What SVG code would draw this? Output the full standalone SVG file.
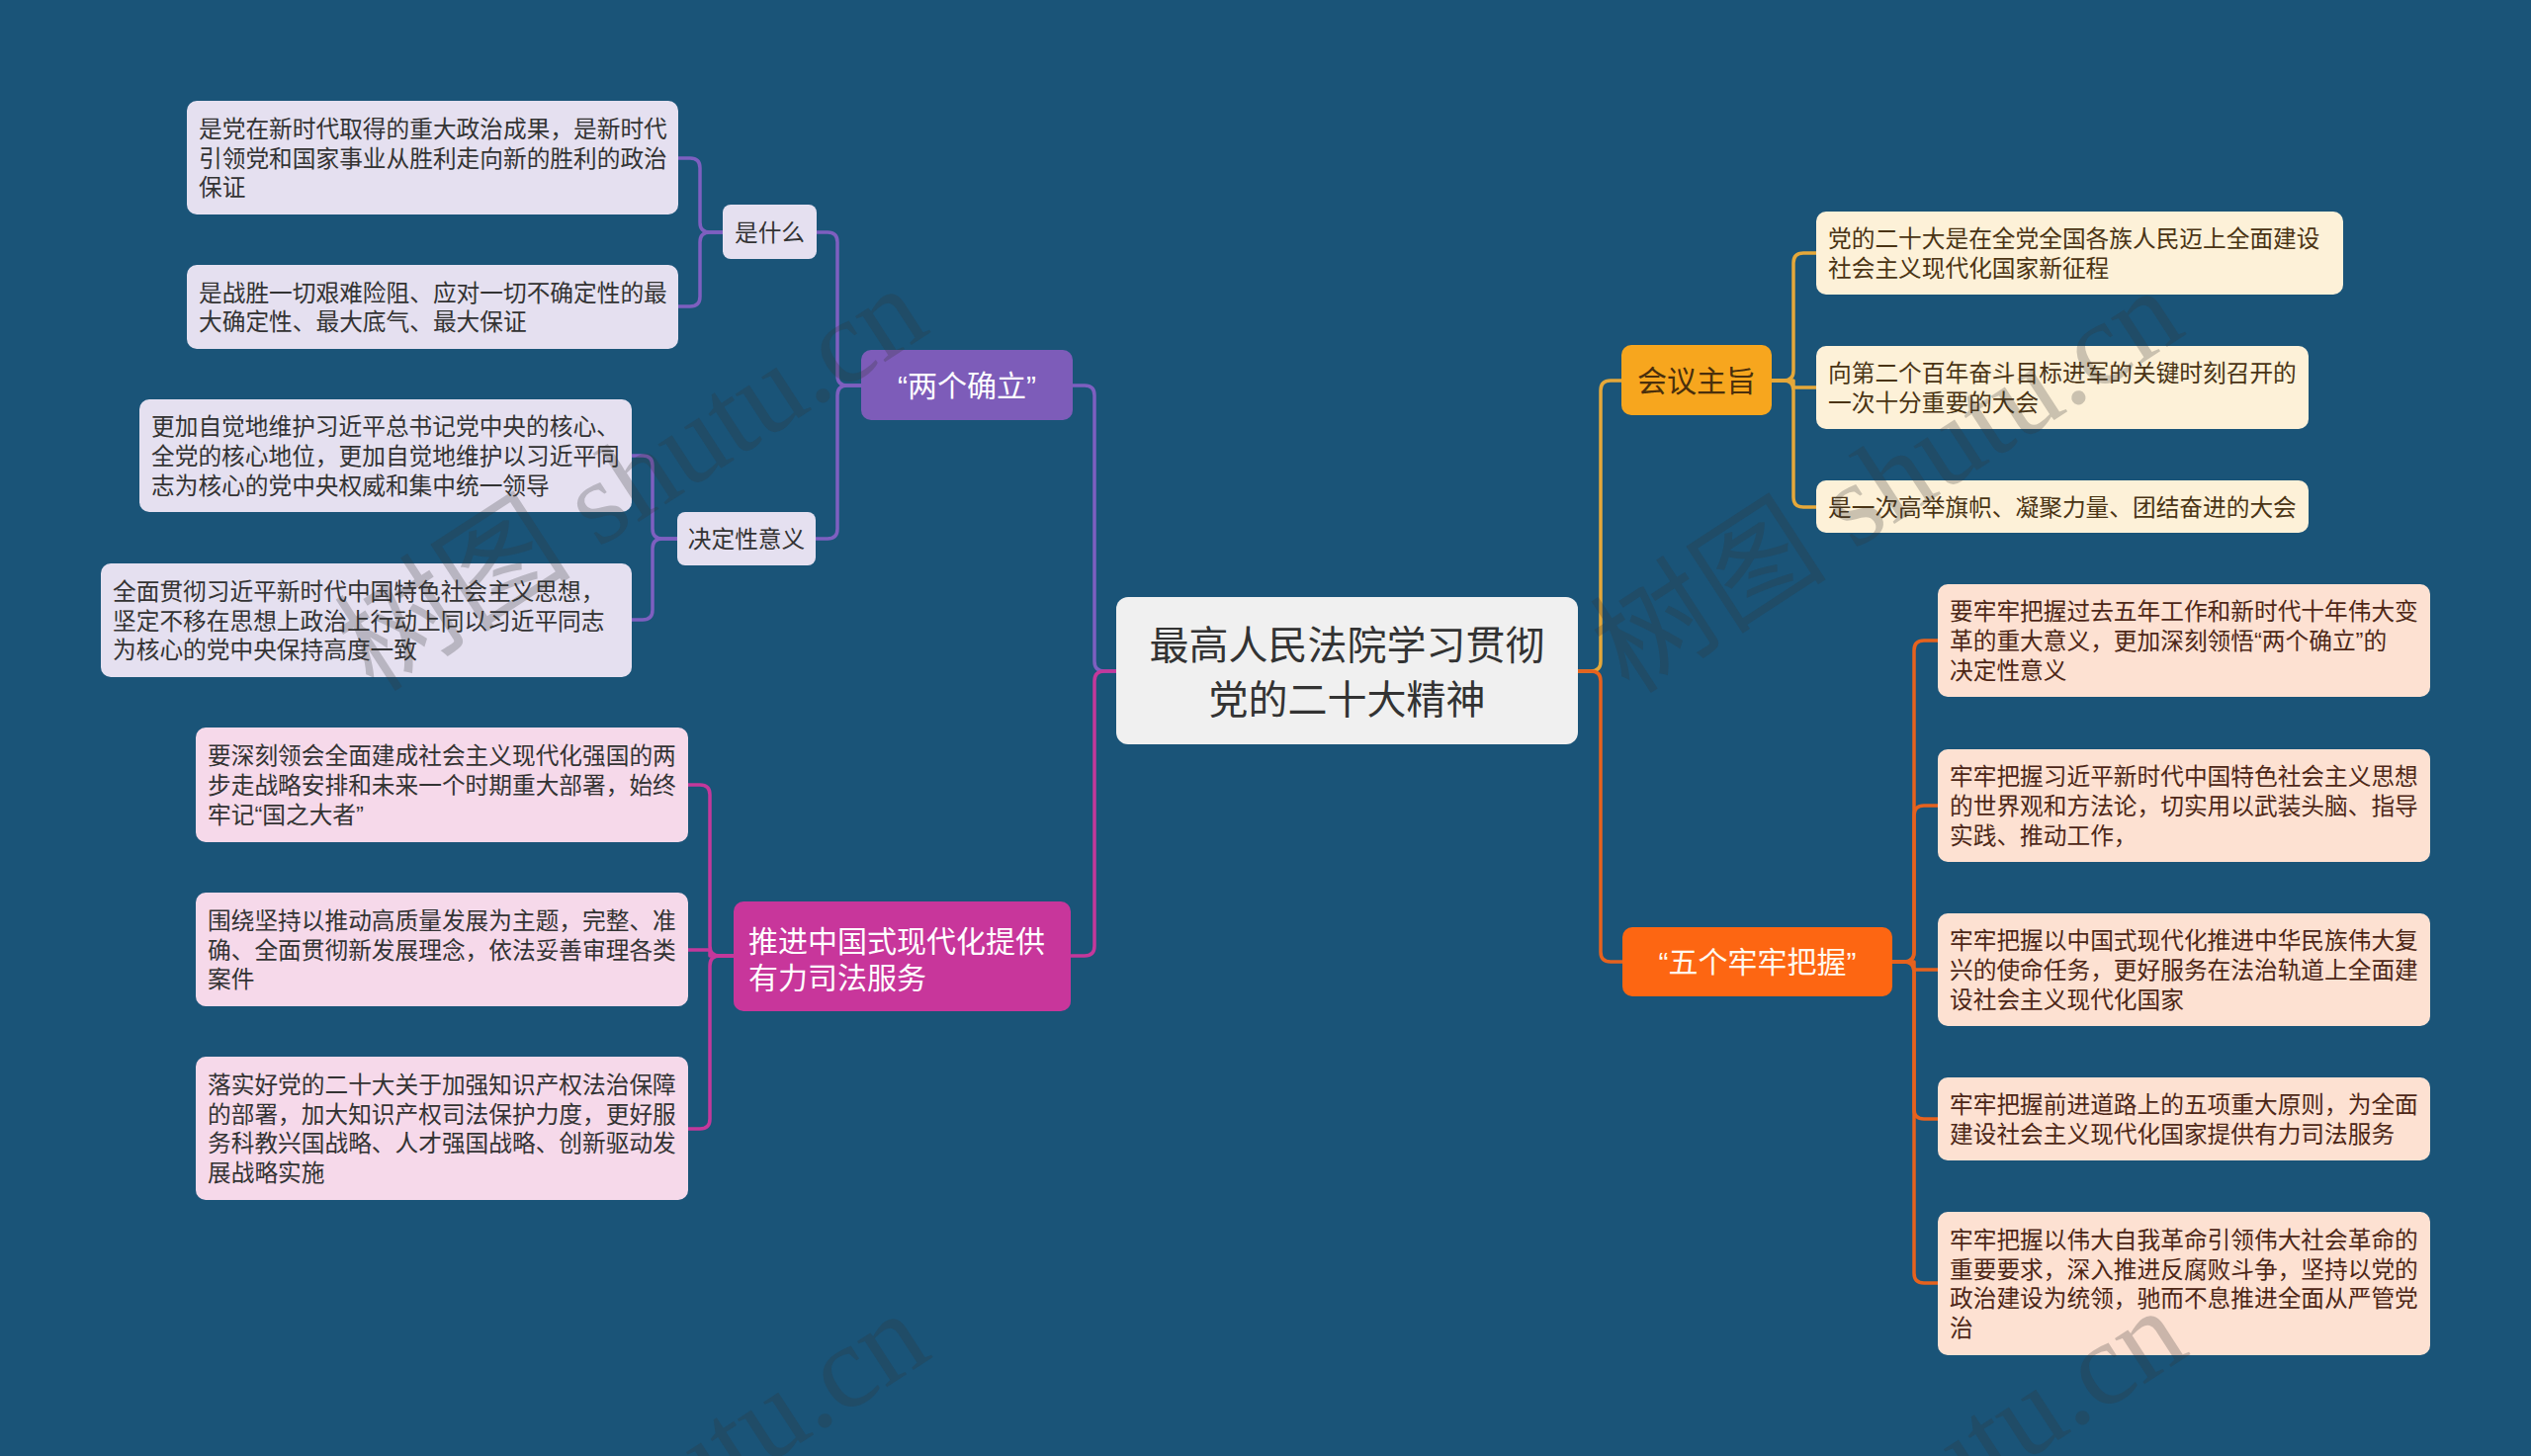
<svg xmlns="http://www.w3.org/2000/svg" width="2560" height="1473" viewBox="0 0 2560 1473">
<style>
  text { font-family: "Liberation Sans", "Noto Sans CJK SC", sans-serif; }
  .leaf { font-size: 23.7px; }
  .main { font-size: 30px; }
  .sub { font-size: 23.7px; fill: #333333; text-anchor: middle; }
  .lav { fill: #e5e0f0; }
  .pink { fill: #f6d9ea; }
  .cream { fill: #fdf1d8; }
  .peach { fill: #fde1d2; }
  .t-dark { fill: #333333; }
  .t-brown { fill: #4a3414; }
  .t-rust { fill: #4d2717; }
  .con { fill: none; stroke-width: 3.5; stroke-linecap: round; stroke-linejoin: round; }
  .purple { stroke: #7e5fc0; }
  .magenta { stroke: #c4389b; }
  .gold { stroke: #e5a83a; }
  .orange { stroke: #e6621e; }
  .wm { font-family: "Liberation Serif", "Noto Sans CJK SC", serif; font-size: 120px; fill: #333333; fill-opacity: 0.25; text-anchor: end; }
</style>
<rect x="0" y="0" width="2560" height="1473" fill="#1a5478"/>

<g id="connectors">
  <path class="con purple" d="M1129,679 H1117 Q1107,679 1107,669 V400 Q1107,390 1097,390 H1085"/>
  <path class="con purple" d="M871,390 H857 Q847,390 847,380 V245 Q847,235 837,235 H826"/>
  <path class="con purple" d="M871,390 H857 Q847,390 847,400 V535 Q847,545 837,545 H825"/>
  <path class="con purple" d="M731,235 H718 Q708,235 708,225 V170 Q708,160 698,160 H686"/>
  <path class="con purple" d="M731,235 H718 Q708,235 708,245 V300 Q708,310 698,310 H686"/>
  <path class="con purple" d="M685,545 H670 Q660,545 660,535 V471 Q660,461 650,461 H639"/>
  <path class="con purple" d="M685,545 H670 Q660,545 660,555 V617 Q660,627 650,627 H639"/>

  <path class="con magenta" d="M1129,679 H1117 Q1107,679 1107,689 V957 Q1107,967 1097,967 H1083"/>
  <path class="con magenta" d="M742,967 H728 Q718,967 718,957 V804 Q718,794 708,794 H696"/>
  <path class="con magenta" d="M742,967 H718 V961 H696"/>
  <path class="con magenta" d="M742,967 H728 Q718,967 718,977 V1132 Q718,1142 708,1142 H696"/>

  <path class="con gold" d="M1596,679 H1609 Q1619,679 1619,669 V395 Q1619,385 1629,385 H1640"/>
  <path class="con gold" d="M1792,385 H1804 Q1814,385 1814,375 V266 Q1814,256 1824,256 H1837"/>
  <path class="con gold" d="M1792,385 H1814 V392 H1837"/>
  <path class="con gold" d="M1792,385 H1804 Q1814,385 1814,395 V503 Q1814,513 1824,513 H1837"/>

  <path class="con orange" d="M1596,679 H1609 Q1619,679 1619,689 V963 Q1619,973 1629,973 H1641"/>
  <path class="con orange" d="M1914,973 H1926 Q1936,973 1936,963 V658 Q1936,648 1946,648 H1960"/>
  <path class="con orange" d="M1914,973 H1926 Q1936,973 1936,963 V825 Q1936,815 1946,815 H1960"/>
  <path class="con orange" d="M1914,973 H1936 V981 H1960"/>
  <path class="con orange" d="M1914,973 H1926 Q1936,973 1936,983 V1122 Q1936,1132 1946,1132 H1960"/>
  <path class="con orange" d="M1914,973 H1926 Q1936,973 1936,983 V1288 Q1936,1298 1946,1298 H1960"/>
</g>

<g id="node-center">
  <rect x="1129" y="604" width="467" height="149" rx="12" fill="#f0f0f0"/>
  <text x="1362.5" y="667" font-size="40" fill="#333333" text-anchor="middle">最高人民法院学习贯彻</text>
  <text x="1362.5" y="722" font-size="40" fill="#333333" text-anchor="middle">党的二十大精神</text>
</g>

<g id="node-liangge">
  <rect x="871" y="354" width="214" height="71" rx="10" fill="#7d5cb9"/>
  <text class="main" x="978" y="401" fill="#ffffff" text-anchor="middle">“两个确立”</text>
</g>

<g id="node-shishenme">
  <rect class="lav" x="731" y="207" width="95" height="55" rx="8"/>
  <text class="sub" x="778.5" y="243.5">是什么</text>
</g>

<g id="node-juedingxing">
  <rect class="lav" x="685" y="518" width="140" height="54" rx="8"/>
  <text class="sub" x="755" y="554">决定性意义</text>
</g>

<g id="leaf-l1">
  <rect class="lav" x="189" y="102" width="497" height="115" rx="10"/>
  <text class="leaf t-dark"><tspan x="201" y="138.8">是党在新时代取得的重大政治成果，是新时代</tspan><tspan x="201" y="168.5">引领党和国家事业从胜利走向新的胜利的政治</tspan><tspan x="201" y="198.2">保证</tspan></text>
</g>
<g id="leaf-l2">
  <rect class="lav" x="189" y="268" width="497" height="85" rx="10"/>
  <text class="leaf t-dark"><tspan x="201" y="304.7">是战胜一切艰难险阻、应对一切不确定性的最</tspan><tspan x="201" y="334.4">大确定性、最大底气、最大保证</tspan></text>
</g>
<g id="leaf-l3">
  <rect class="lav" x="141" y="404" width="498" height="114" rx="10"/>
  <text class="leaf t-dark"><tspan x="153" y="440.3">更加自觉地维护习近平总书记党中央的核心、</tspan><tspan x="153" y="470">全党的核心地位，更加自觉地维护以习近平同</tspan><tspan x="153" y="499.7">志为核心的党中央权威和集中统一领导</tspan></text>
</g>
<g id="leaf-l4">
  <rect class="lav" x="102" y="570" width="537" height="115" rx="10"/>
  <text class="leaf t-dark"><tspan x="114" y="606.8">全面贯彻习近平新时代中国特色社会主义思想，</tspan><tspan x="114" y="636.5">坚定不移在思想上政治上行动上同以习近平同志</tspan><tspan x="114" y="666.2">为核心的党中央保持高度一致</tspan></text>
</g>

<g id="node-tuijin">
  <rect x="742" y="912" width="341" height="111" rx="10" fill="#c8369b"/>
  <text class="main" fill="#ffffff"><tspan x="757" y="963">推进中国式现代化提供</tspan><tspan x="757" y="1000">有力司法服务</tspan></text>
</g>
<g id="leaf-p1">
  <rect class="pink" x="198" y="736" width="498" height="116" rx="10"/>
  <text class="leaf t-dark"><tspan x="210" y="773.3">要深刻领会全面建成社会主义现代化强国的两</tspan><tspan x="210" y="803">步走战略安排和未来一个时期重大部署，始终</tspan><tspan x="210" y="832.7">牢记“国之大者”</tspan></text>
</g>
<g id="leaf-p2">
  <rect class="pink" x="198" y="903" width="498" height="115" rx="10"/>
  <text class="leaf t-dark"><tspan x="210" y="939.8">围绕坚持以推动高质量发展为主题，完整、准</tspan><tspan x="210" y="969.5">确、全面贯彻新发展理念，依法妥善审理各类</tspan><tspan x="210" y="999.2">案件</tspan></text>
</g>
<g id="leaf-p3">
  <rect class="pink" x="198" y="1069" width="498" height="145" rx="10"/>
  <text class="leaf t-dark"><tspan x="210" y="1106">落实好党的二十大关于加强知识产权法治保障</tspan><tspan x="210" y="1135.7">的部署，加大知识产权司法保护力度，更好服</tspan><tspan x="210" y="1165.4">务科教兴国战略、人才强国战略、创新驱动发</tspan><tspan x="210" y="1195">展战略实施</tspan></text>
</g>

<g id="node-huiyi">
  <rect x="1640" y="349" width="152" height="71" rx="10" fill="#f7a61e"/>
  <text class="main" x="1716" y="396" fill="#4a2f0c" text-anchor="middle">会议主旨</text>
</g>
<g id="leaf-r1">
  <rect class="cream" x="1837" y="214" width="533" height="84" rx="10"/>
  <text class="leaf t-brown"><tspan x="1849" y="250.2">党的二十大是在全党全国各族人民迈上全面建设</tspan><tspan x="1849" y="279.9">社会主义现代化国家新征程</tspan></text>
</g>
<g id="leaf-r2">
  <rect class="cream" x="1837" y="350" width="498" height="84" rx="10"/>
  <text class="leaf t-brown"><tspan x="1849" y="386.2">向第二个百年奋斗目标进军的关键时刻召开的</tspan><tspan x="1849" y="415.9">一次十分重要的大会</tspan></text>
</g>
<g id="leaf-r3">
  <rect class="cream" x="1837" y="486" width="498" height="53" rx="10"/>
  <text class="leaf t-brown" x="1849" y="521.5">是一次高举旗帜、凝聚力量、团结奋进的大会</text>
</g>

<g id="node-wuge">
  <rect x="1641" y="938" width="273" height="70" rx="10" fill="#fd6612"/>
  <text class="main" x="1777.5" y="984" fill="#fff8ee" text-anchor="middle">“五个牢牢把握”</text>
</g>
<g id="leaf-f1">
  <rect class="peach" x="1960" y="591" width="498" height="114" rx="10"/>
  <text class="leaf t-rust"><tspan x="1972" y="627.3">要牢牢把握过去五年工作和新时代十年伟大变</tspan><tspan x="1972" y="657">革的重大意义，更加深刻领悟“两个确立”的</tspan><tspan x="1972" y="686.7">决定性意义</tspan></text>
</g>
<g id="leaf-f2">
  <rect class="peach" x="1960" y="758" width="498" height="114" rx="10"/>
  <text class="leaf t-rust"><tspan x="1972" y="794.3">牢牢把握习近平新时代中国特色社会主义思想</tspan><tspan x="1972" y="824">的世界观和方法论，切实用以武装头脑、指导</tspan><tspan x="1972" y="853.7">实践、推动工作，</tspan></text>
</g>
<g id="leaf-f3">
  <rect class="peach" x="1960" y="924" width="498" height="114" rx="10"/>
  <text class="leaf t-rust"><tspan x="1972" y="960.3">牢牢把握以中国式现代化推进中华民族伟大复</tspan><tspan x="1972" y="990">兴的使命任务，更好服务在法治轨道上全面建</tspan><tspan x="1972" y="1019.7">设社会主义现代化国家</tspan></text>
</g>
<g id="leaf-f4">
  <rect class="peach" x="1960" y="1090" width="498" height="84" rx="10"/>
  <text class="leaf t-rust"><tspan x="1972" y="1126.2">牢牢把握前进道路上的五项重大原则，为全面</tspan><tspan x="1972" y="1155.9">建设社会主义现代化国家提供有力司法服务</tspan></text>
</g>
<g id="leaf-f5">
  <rect class="peach" x="1960" y="1226" width="498" height="145" rx="10"/>
  <text class="leaf t-rust"><tspan x="1972" y="1263">牢牢把握以伟大自我革命引领伟大社会革命的</tspan><tspan x="1972" y="1292.7">重要要求，深入推进反腐败斗争，坚持以党的</tspan><tspan x="1972" y="1322.4">政治建设为统领，驰而不息推进全面从严管党</tspan><tspan x="1972" y="1352">治</tspan></text>
</g>

<g id="watermark">
  <text class="wm" transform="translate(943,335) rotate(-33)">树图 shutu.cn</text>
  <text class="wm" transform="translate(2213,337) rotate(-33)">树图 shutu.cn</text>
  <text class="wm" transform="translate(945,1372) rotate(-33)">树图 shutu.cn</text>
  <text class="wm" transform="translate(2217,1369) rotate(-33)">树图 shutu.cn</text>
</g>
</svg>
